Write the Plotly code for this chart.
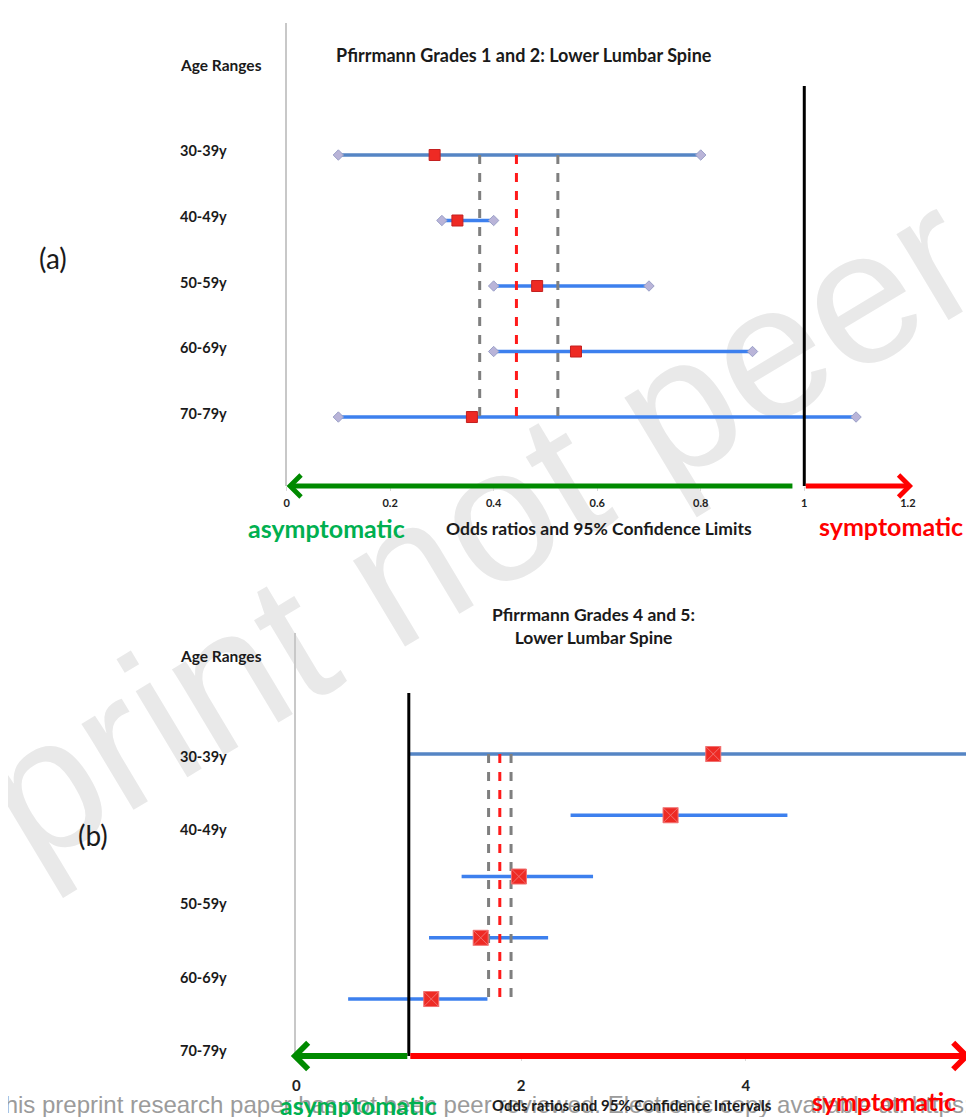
import plotly.graph_objects as go

W, H = 974, 1117

# ---------------- data ----------------
age_ranges = ["30-39y", "40-49y", "50-59y", "60-69y", "70-79y"]
rows = [0, 1, 2, 3, 4]

# Panel (a): Pfirrmann Grades 1 and 2
a_or = [0.286, 0.33, 0.484, 0.559, 0.358]
a_lo = [0.10, 0.30, 0.40, 0.40, 0.10]
a_hi = [0.80, 0.40, 0.70, 0.90, 1.10]
a_pooled = [0.373, 0.444, 0.524]          # lower CL, pooled OR, upper CL
a_tickvals = [0, 0.2, 0.4, 0.6, 0.8, 1, 1.2]
a_ticktext = ["0", "0.2", "0.4", "0.6", "0.8", "1", "1.2"]

# Panel (b): Pfirrmann Grades 4 and 5
b_or = [3.71, 3.33, 1.98, 1.64, 1.20]
b_lo = [1.00, 2.44, 1.47, 1.18, 0.46]
b_hi = [6.50, 4.37, 2.64, 2.24, 1.70]
b_pooled = [1.71, 1.81, 1.91]
b_tickvals = [0, 2, 4, 6]
b_ticktext = ["0", "2", "4", "6"]

null_or = 1

# ---------------- helpers ----------------
def px(x):
    return x / W

def py(y):
    return 1 - y / H

FONT = "Lato, Carlito, 'Liberation Sans Narrow', sans-serif"
STEEL = "#5585c4"
BLUE = "#3d80ee"

fig = go.Figure()

def add_panel(xa, ya, lo, hi, orv, pooled, ends, sq_size, sq_symbol):
    # CI lines
    for i in rows:
        col = STEEL if i == 0 else BLUE
        fig.add_trace(go.Scatter(
            x=[lo[i], hi[i]], y=[i, i], xaxis=xa, yaxis=ya,
            mode="lines+markers" if ends else "lines",
            line=dict(color=col, width=3.5),
            marker=dict(symbol="diamond", size=8, color="#b9b4d8",
                        line=dict(color="#9aa0c8", width=1)),
            hoverinfo="skip", showlegend=False))
    # pooled dashed lines
    for k, v in enumerate(pooled):
        fig.add_trace(go.Scatter(
            x=[v, v], y=[rows[0], rows[-1]], xaxis=xa, yaxis=ya, mode="lines",
            line=dict(color="#ff1a1a" if k == 1 else "#7f7f7f", width=3, dash="dash"),
            hoverinfo="skip", showlegend=False))
    # odds ratio squares
    fig.add_trace(go.Scatter(
        x=orv, y=rows, xaxis=xa, yaxis=ya, mode="markers",
        marker=dict(symbol=sq_symbol, size=sq_size, color="#ee2a24",
                    line=dict(color="#f07070" if sq_symbol == "square-x" else "#c42020", width=1)),
        hoverinfo="skip", showlegend=False))

add_panel("x", "y", a_lo, a_hi, a_or, a_pooled, True, 11, "square")
add_panel("x2", "y2", b_lo, b_hi, b_or, b_pooled, False, 15, "square-x")

axis_common = dict(showgrid=False, zeroline=False, fixedrange=True)

fig.update_layout(
    width=W, height=H,
    margin=dict(l=0, r=0, t=0, b=0),
    paper_bgcolor="white", plot_bgcolor="rgba(0,0,0,0)",
    xaxis=dict(domain=[px(278), px(907)], range=[0, 1.2], anchor="y",
               tickvals=a_tickvals, ticktext=a_ticktext, showline=False,
               ticks="outside", ticklen=4, tickcolor="#d9d9d9",
               ticklabelstandoff=3,
               tickfont=dict(family=FONT, size=11, color="#222", weight="bold"),
               **axis_common),
    yaxis=dict(domain=[py(478), py(15)], range=[5.053, -2.015], anchor="x",
               showticklabels=False, ticks="", showline=True,
               linecolor="#c8c8c8", linewidth=2, **axis_common),
    xaxis2=dict(domain=[px(288), px(970.5)], range=[0, 6], anchor="y2",
                tickvals=b_tickvals, ticktext=b_ticktext, showline=False,
                ticks="outside", ticklen=4, tickcolor="#d9d9d9",
                ticklabelstandoff=12,
                tickfont=dict(family=FONT, size=15, color="#222", weight="bold"),
                **axis_common),
    yaxis2=dict(domain=[py(1048), py(625)], range=[4.93, -1.976], anchor="x2",
                showticklabels=False, ticks="", showline=True,
                linecolor="#c8c8c8", linewidth=2, **axis_common),
)

# ---------------- shapes ----------------
shapes = [
    # diagonal watermark (drawn beneath everything)
    dict(type="line", xref="paper", yref="paper",
         x0=px(-25), y0=py(795), x1=px(949), y1=py(210),
         line=dict(color="rgba(0,0,0,0)", width=0), layer="below",
         label=dict(text="print not peer", textangle=-31, textposition="middle",
                    yanchor="middle",
                    font=dict(family="Liberation Sans, Arial, sans-serif",
                              size=190, color="#e9e9e9"))),
    # null line OR = 1
    dict(type="line", xref="x", yref="y domain", x0=null_or, x1=null_or,
         y0=0, y1=0.864, line=dict(color="black", width=3)),
    dict(type="line", xref="x2", yref="y2 domain", x0=null_or, x1=null_or,
         y0=0, y1=0.858, line=dict(color="black", width=3)),
]
fig.update_layout(shapes=shapes)

# ---------------- annotations ----------------
ann = []

# bottom watermark sentence
ann.append(dict(text="This preprint research paper has not been peer reviewed. Electronic copy available at: https://ssrn.com/abstract",
                xref="paper", yref="paper", x=px(-24), y=py(1096),
                xanchor="left", yanchor="middle", showarrow=False,
                font=dict(family="Liberation Sans, Arial, sans-serif", size=24, color="#9b9b9b")))

def txt(text, x, y, size, color="#1a1a1a", bold=True, xanchor="center", family=FONT):
    ann.append(dict(text=text, xref="paper", yref="paper", x=px(x), y=py(y),
                    xanchor=xanchor, yanchor="middle", showarrow=False,
                    font=dict(family=family, size=size, color=color,
                              weight="bold" if bold else "normal")))

# arrows
def arrow(xref, tip, tail, ypix, color, width):
    ann.append(dict(text="", xref=xref, yref="paper", x=tip, y=py(ypix),
                    axref=xref, ax=tail, ayref="pixel", ay=0,
                    showarrow=True, arrowhead=4, arrowsize=0.85,
                    arrowwidth=width, arrowcolor=color))

arrow("x", 0.0, 0.98, 478, "#008a00", 5)
arrow("x", 1.21, 1.0, 478, "#ff0000", 5)
arrow("x2", -0.05, 1.0, 1048, "#008a00", 6)
arrow("x2", 6.0, 1.0, 1048, "#ff0000", 6)

# titles
txt("Pfirrmann Grades 1 and 2: Lower Lumbar Spine", 518, 47, 18)
txt("Pfirrmann Grades 4 and 5:<br>Lower Lumbar Spine", 589, 618, 17.5)
txt("Age Ranges", 168, 57, 15.5, xanchor="left")
txt("Age Ranges", 168, 648, 15.5, xanchor="left")

# age labels panel (a): aligned with rows
for i, lab in zip(rows, age_ranges):
    ann.append(dict(text=lab, xref="paper", yref="y", x=px(168), y=rows[i],
                    yshift=4, xanchor="left", yanchor="middle", showarrow=False,
                    font=dict(family=FONT, size=14.5, color="#1a1a1a", weight="bold")))
# age labels panel (b): evenly spaced down the left side
for i, lab in zip(rows, age_ranges):
    txt(lab, 168, 748 + 73.7 * i, 14.5, xanchor="left")

# axis titles and direction labels
txt("Odds ratios and 95% Confidence Limits", 594, 520, 17.5)
txt("Odds ratios and 95% Confidence Intervals", 628, 1097, 15)
txt("asymptomatic", 318, 520, 25, color="#00b050")
txt("symptomatic", 890, 518, 25, color="#ff0000")
txt("asymptomatic", 351, 1097, 25, color="#00b050")
txt("symptomatic", 883, 1093, 25, color="#ff0000")

# panel letters
txt("(a)", 42, 250, 28, bold=False)
txt("(b)", 82, 827, 28, bold=False)

fig.update_layout(annotations=ann)

fig.write_html("out.html")
